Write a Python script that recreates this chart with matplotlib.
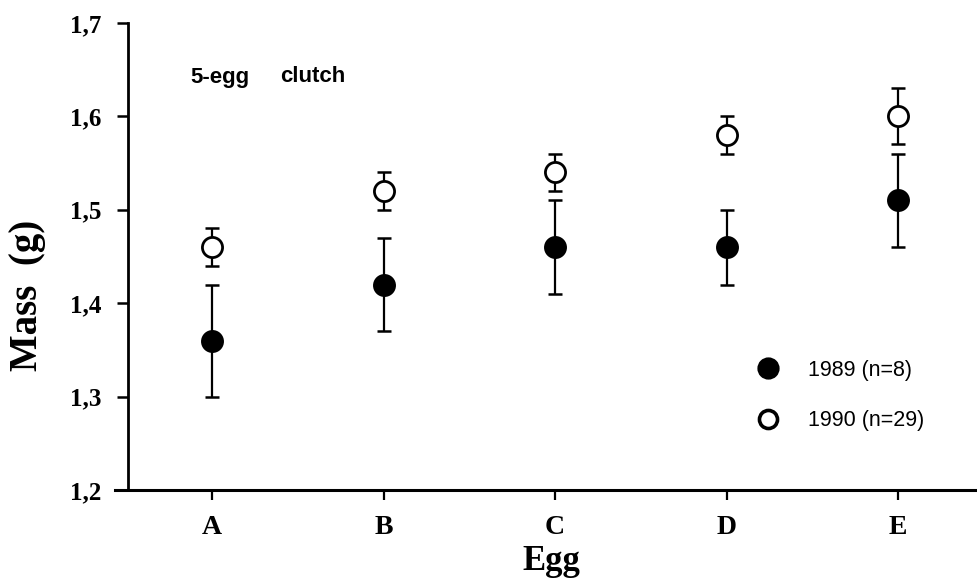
import matplotlib
matplotlib.use("Agg")
import matplotlib.pyplot as plt
from matplotlib.lines import Line2D

EGGS = ["A", "B", "C", "D", "E"]

MEAN_1989 = [1.36, 1.42, 1.46, 1.46, 1.51]
LOW_1989 = [1.30, 1.37, 1.41, 1.42, 1.46]
HIGH_1989 = [1.42, 1.47, 1.51, 1.50, 1.56]

MEAN_1990 = [1.46, 1.52, 1.54, 1.58, 1.60]
LOW_1990 = [1.44, 1.50, 1.52, 1.56, 1.57]
HIGH_1990 = [1.48, 1.54, 1.56, 1.60, 1.63]

Y_TICKS = [1.2, 1.3, 1.4, 1.5, 1.6, 1.7]
Y_TICK_LABELS = ["1,2", "1,3", "1,4", "1,5", "1,6", "1,7"]

LABELS = ["1989 (n=8)", "1990 (n=29)"]

SERIF = "Liberation Serif"
SANS = "Liberation Sans"


def plot_series(ax, x, mean, low, high, face):
    yerr = [[m - l for m, l in zip(mean, low)], [h - m for m, h in zip(mean, high)]]
    ax.errorbar(x, mean, yerr=yerr, fmt="none", ecolor="black", elinewidth=1.6,
                capsize=5, capthick=1.8, zorder=2)
    ax.plot(x, mean, linestyle="none", marker="o", markersize=14.5,
            markerfacecolor=face, markeredgecolor="black", markeredgewidth=2, zorder=3)


fig = plt.figure(figsize=(9.77, 5.87), dpi=100)
ax = fig.add_axes([115 / 977, 97 / 587, 862 / 977, 467 / 587])

x = list(range(len(EGGS)))
plot_series(ax, x, MEAN_1989, LOW_1989, HIGH_1989, "black")
plot_series(ax, x, MEAN_1990, LOW_1990, HIGH_1990, "white")

ax.set_xlim(-0.566, 4.46)
ax.set_ylim(1.2, 1.7)

for s in ["top", "right"]:
    ax.spines[s].set_visible(False)
ax.spines["left"].set_position(("data", -0.49))
ax.spines["left"].set_bounds(1.2, 1.7)
ax.spines["left"].set_linewidth(2)
ax.spines["bottom"].set_linewidth(2.2)

ax.set_xticks(x)
ax.set_xticklabels(EGGS, fontfamily=SERIF, fontweight="bold", fontsize=20)
ax.set_yticks(Y_TICKS)
ax.set_yticklabels(Y_TICK_LABELS, fontfamily=SERIF, fontweight="bold", fontsize=18)
ax.tick_params(axis="x", length=7, width=1.6, pad=11)
ax.tick_params(axis="y", length=8, width=1.8, pad=11)

fig.text(551 / 977, 1 - 562 / 587, "Egg", ha="center", va="center",
         fontfamily=SERIF, fontweight="bold", fontsize=25)
fig.text(28 / 977, 1 - 295 / 587, "Mass  (g)", ha="center", va="center", rotation=90,
         fontfamily=SERIF, fontweight="bold", fontsize=28)

# title words sit far apart in the original
fig.text(190 / 977, 1 - 77 / 587, "5-egg", ha="left", va="center",
         fontfamily=SANS, fontweight="bold", fontsize=16)
fig.text(280 / 977, 1 - 77 / 587, "clutch", ha="left", va="center",
         fontfamily=SANS, fontweight="bold", fontsize=16)

handles = [
    Line2D([], [], linestyle="none", marker="o", markersize=14, markerfacecolor="black",
           markeredgecolor="black", markeredgewidth=2),
    Line2D([], [], linestyle="none", marker="o", markersize=13, markerfacecolor="white",
           markeredgecolor="black", markeredgewidth=2.6),
]
ax.legend(handles, LABELS, loc="upper left", bbox_to_anchor=(757 / 977, 1 - 360 / 587),
          bbox_transform=fig.transFigure, frameon=False, borderpad=0, borderaxespad=0,
          handlelength=1.0, handletextpad=1.35, labelspacing=1.37,
          prop={"family": SANS, "size": 15.5})

fig.savefig("out.png", dpi=100)
